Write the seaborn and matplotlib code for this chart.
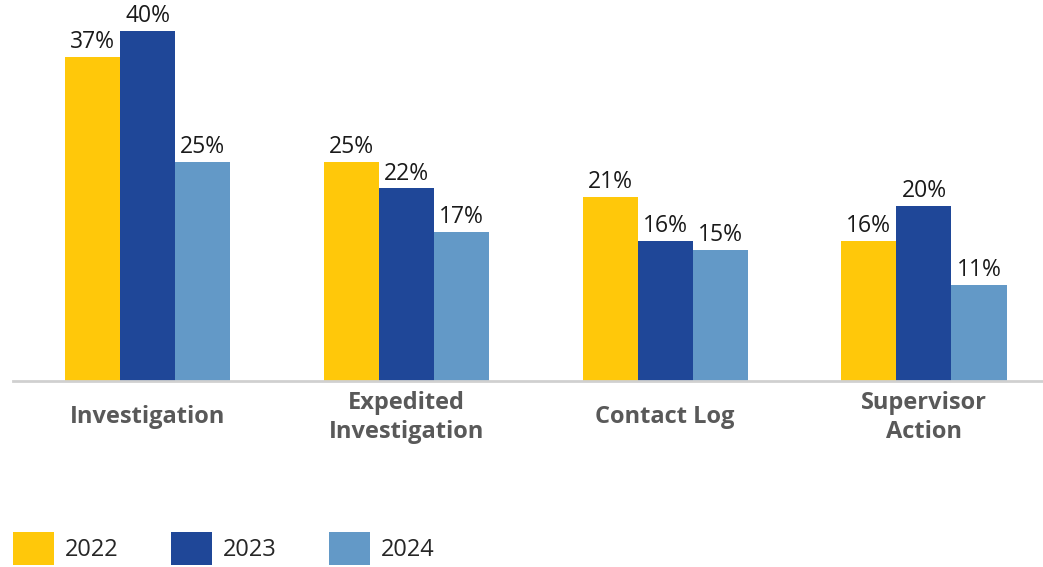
import pandas as pd
import seaborn as sns
import matplotlib.pyplot as plt

# Chart data
categories = ["Investigation", "Expedited\nInvestigation", "Contact Log", "Supervisor\nAction"]
years = ["2022", "2023", "2024"]
values_2022 = [37, 25, 21, 16]
values_2023 = [40, 22, 16, 20]
values_2024 = [25, 17, 15, 11]
colors = ["#FFC80A", "#1F4798", "#6399C7"]

df = pd.DataFrame({
    "category": categories * 3,
    "year": [y for y in years for _ in categories],
    "value": values_2022 + values_2023 + values_2024,
})

sns.set_theme(style="white")
plt.rcParams["font.family"] = ["Open Sans", "DejaVu Sans"]

fig = plt.figure(figsize=(10.43, 5.67), dpi=100)
ax = fig.add_axes([13 / 1043, (567 - 381) / 567, 1 - 13 / 1043, 381 / 567])

sns.barplot(data=df, x="category", y="value", hue="year", palette=colors,
            saturation=1, width=0.638, ax=ax, linewidth=0, legend=True)

for cont in ax.containers:
    ax.bar_label(cont, labels=[f"{int(v)}%" for v in cont.datavalues],
                 padding=2, fontsize=16.5, color="#1a1a1a")

ax.set_xlim(-0.52, 3.46)
ax.set_ylim(0, 43.5)
ax.set_yticks([])
ax.set_xlabel("")
ax.set_ylabel("")
for side in ["top", "right", "left"]:
    ax.spines[side].set_visible(False)
ax.spines["bottom"].set_color("#D0D0D0")
ax.spines["bottom"].set_linewidth(2)

ax.tick_params(axis="x", length=0, pad=26)
for lbl in ax.get_xticklabels():
    lbl.set_fontweight("bold")
    lbl.set_color("#595959")
    lbl.set_fontsize(17)
    lbl.set_verticalalignment("center")
    lbl.set_linespacing(1.27)

handles, labels = ax.get_legend_handles_labels()
ax.legend_.remove()
fig.legend(handles, labels, loc="lower left", bbox_to_anchor=(13 / 1043, 2 / 567),
           ncol=3, frameon=False, fontsize=17, handlelength=1.74, handleheight=1.75,
           handletextpad=0.47, columnspacing=2.2, borderpad=0, borderaxespad=0)

fig.savefig("out.png", dpi=100)
